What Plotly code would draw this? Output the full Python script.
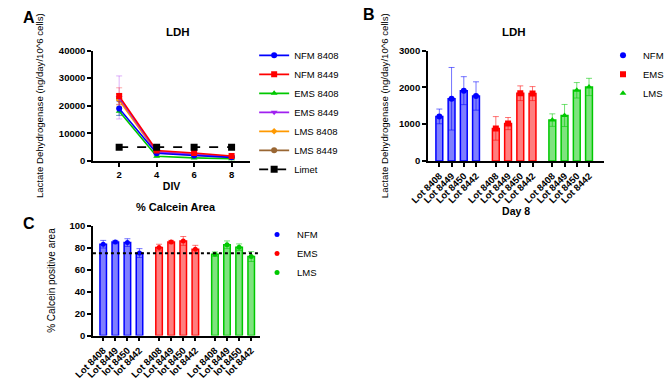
import plotly.graph_objects as go

# ---------------- data ----------------
DIV = [2, 4, 6, 8]
A_NAMES = ["NFM 8408", "NFM 8449", "EMS 8408", "EMS 8449", "LMS 8408", "LMS 8449"]
NFM_8408 = [19000, 2800, 2000, 1300]
NFM_8408_SD = [2500, 400, 300, 200]
NFM_8449 = [23500, 3800, 2900, 1800]
NFM_8449_SD = [3000, 500, 400, 300]
EMS_8408 = [18000, 1700, 1100, 800]
EMS_8408_SD = [1500, 300, 200, 150]
EMS_8449 = [23000, 3300, 2300, 1500]
EMS_8449_SD = [7800, 400, 300, 200]
LMS_8408 = [22000, 3000, 2100, 1300]
LMS_8408_SD = [2000, 300, 200, 200]
LMS_8449 = [22500, 3300, 2300, 1500]
LMS_8449_SD = [2000, 300, 200, 200]
LIMET = [5000, 5000, 5000, 5000]

GROUPS = ["NFM", "EMS", "LMS"]
LOTS_B = ["Lot 8408", "Lot 8449", "Lot 8450", "Lot 8442"]
NFM_B = [1210, 1690, 1910, 1765]
NFM_B_SD = [200, 850, 380, 385]
EMS_B = [885, 1015, 1840, 1830]
EMS_B_SD = [320, 165, 200, 190]
LMS_B = [1110, 1235, 1920, 2010]
LMS_B_SD = [170, 300, 210, 235]

LOTS_C = ["Lot 8408", "Lot 8449", "lot 8450", "lot 8442"]
NFM_C = [83, 85, 84.5, 75]
NFM_C_SD = [3.5, 1.5, 3.5, 4]
EMS_C = [80, 85, 86, 78.5]
EMS_C_SD = [3, 1.5, 4, 3.5]
LMS_C = [74, 82.5, 80.3, 71.8]
LMS_C_SD = [2, 3.5, 3, 4.5]
CALCEIN_LIMIT = 74.8

# ---------------- style ----------------
W, H = 669, 380
FONT = "Liberation Sans, Arial, sans-serif"
BLUE, RED, GREEN = "#0000FF", "#FF0000", "#00C800"
PURPLE, ORANGE, BROWN = "#A020F0", "#FF9900", "#996633"
FILL = {"NFM": "rgba(0,0,255,0.5)", "EMS": "rgba(255,0,0,0.5)", "LMS": "rgba(0,200,0,0.5)"}
ERRC = {"NFM": "rgba(0,0,255,0.55)", "EMS": "rgba(255,0,0,0.55)", "LMS": "rgba(0,200,0,0.55)"}
GCOL = {"NFM": BLUE, "EMS": RED, "LMS": GREEN}


def fx(p):
    return p / W


def fy(p):
    return 1 - p / H


fig = go.Figure()

# ---------------- panel A ----------------
a_vals = [NFM_8408, NFM_8449, EMS_8408, EMS_8449, LMS_8408, LMS_8449]
a_sds = [NFM_8408_SD, NFM_8449_SD, EMS_8408_SD, EMS_8449_SD, LMS_8408_SD, LMS_8449_SD]
a_cols = [BLUE, RED, GREEN, PURPLE, ORANGE, BROWN]
a_syms = ["circle", "square", "triangle-up", "triangle-down", "diamond", "circle"]
a_err_rgba = ["rgba(0,0,255,0.35)", "rgba(255,0,0,0.35)", "rgba(0,200,0,0.35)",
              "rgba(160,32,240,0.35)", "rgba(255,153,0,0.35)", "rgba(153,102,51,0.35)"]
order = [5, 4, 3, 2, 0, 1]
for i in order:
    fig.add_trace(go.Scatter(
        x=DIV, y=a_vals[i], name=A_NAMES[i], mode="lines+markers",
        line=dict(color=a_cols[i], width=1.6),
        marker=dict(color=a_cols[i], symbol=a_syms[i], size=6 if i != 4 else 5),
        error_y=dict(type="data", array=a_sds[i], color=a_err_rgba[i], thickness=1, width=3),
        xaxis="x", yaxis="y", legend="legend", legendrank=i + 1,
    ))
fig.add_trace(go.Scatter(
    x=DIV, y=LIMET, name="Limet", mode="lines+markers",
    line=dict(color="black", width=1.6, dash="dash"),
    marker=dict(color="black", symbol="square", size=7),
    xaxis="x", yaxis="y", legend="legend", legendrank=7,
))

# ---------------- panels B and C (bars) ----------------
GAP = 0.62


def positions(g):
    return [g * (len(LOTS_B) + GAP) + i for i in range(len(LOTS_B))]


b_vals = {"NFM": (NFM_B, NFM_B_SD), "EMS": (EMS_B, EMS_B_SD), "LMS": (LMS_B, LMS_B_SD)}
c_vals = {"NFM": (NFM_C, NFM_C_SD), "EMS": (EMS_C, EMS_C_SD), "LMS": (LMS_C, LMS_C_SD)}
b_syms = {"NFM": "circle", "EMS": "square", "LMS": "triangle-up"}

for g, grp in enumerate(GROUPS):
    xs = positions(g)
    v, sd = b_vals[grp]
    fig.add_trace(go.Bar(x=xs, y=v, width=0.56, marker=dict(color=FILL[grp], line=dict(color=GCOL[grp], width=1.5)),
                         showlegend=False, xaxis="x2", yaxis="y2", hoverinfo="skip"))
    fig.add_trace(go.Scatter(x=xs, y=v, mode="markers", name=grp,
                             marker=dict(color=GCOL[grp], symbol=b_syms[grp], size=6),
                             error_y=dict(type="data", array=sd, color=ERRC[grp], thickness=1, width=3),
                             xaxis="x2", yaxis="y2", legend="legend2"))
    v, sd = c_vals[grp]
    fig.add_trace(go.Bar(x=xs, y=v, width=0.54, marker=dict(color=FILL[grp], line=dict(color=GCOL[grp], width=1.5)),
                         showlegend=False, xaxis="x3", yaxis="y3", hoverinfo="skip"))
    fig.add_trace(go.Scatter(x=xs, y=v, mode="markers", name=grp,
                             marker=dict(color=GCOL[grp], symbol="circle", size=5),
                             error_y=dict(type="data", array=sd, color=ERRC[grp], thickness=1, width=3),
                             xaxis="x3", yaxis="y3", legend="legend3"))

all_pos = [p for g in range(len(GROUPS)) for p in positions(g)]

axis_common = dict(showline=True, linecolor="black", linewidth=1.5, ticks="outside", ticklen=4,
                   tickwidth=1.5, tickcolor="black", showgrid=False, zeroline=False,
                   tickfont=dict(size=9.5, family=FONT, color="black", weight="bold"))

fig.update_layout(
    width=W, height=H, margin=dict(l=0, r=0, t=0, b=0),
    paper_bgcolor="white", plot_bgcolor="white", barmode="overlay",
    font=dict(family=FONT, color="black"),
    xaxis=dict(domain=[fx(76), fx(240)], range=[0.6, 9.0], tickvals=DIV, anchor="y",
               title=dict(text="DIV", font=dict(size=10.5, weight="bold"), standoff=4), **axis_common),
    yaxis=dict(domain=[fy(160), fy(46)], range=[0, 40000], tickvals=[0, 10000, 20000, 30000, 40000],
               tickformat="d", anchor="x",
               title=dict(text="Lactate Dehydrogenase (ng/day/10^6 cells)", font=dict(size=9.6), standoff=13),
               **axis_common),
    xaxis2=dict(domain=[fx(425), fx(609)], range=[-0.94, 13.5], tickvals=all_pos,
                ticktext=LOTS_B * len(GROUPS), tickangle=-45, anchor="y2",
                title=dict(text="Day 8", font=dict(size=10.5, weight="bold"), standoff=0), **axis_common),
    yaxis2=dict(domain=[fy(160), fy(46)], range=[0, 3000], tickvals=[0, 1000, 2000, 3000],
                tickformat="d", anchor="x2",
                title=dict(text="Lactate Dehydrogenase (ng/day/10^6 cells)", font=dict(size=9.6), standoff=9),
                **axis_common),
    xaxis3=dict(domain=[fx(76), fx(250)], range=[-0.85, 12.96], tickvals=all_pos,
                ticktext=LOTS_C * len(GROUPS), tickangle=-45, anchor="y3", **axis_common),
    yaxis3=dict(domain=[fy(340.3), fy(226.7)], range=[0, 100], tickvals=[0, 20, 40, 60, 80, 100],
                anchor="x3",
                title=dict(text="% Calcein positive area", font=dict(size=10), standoff=12),
                **axis_common),
    legend=dict(x=fx(244), y=fy(36), xanchor="left", yanchor="top", font=dict(size=9.5),
                bgcolor="rgba(0,0,0,0)", itemwidth=30, tracegroupgap=0),
    legend2=dict(x=fx(608), y=fy(36), xanchor="left", yanchor="top", font=dict(size=9.5),
                 bgcolor="rgba(0,0,0,0)", itemwidth=30),
    legend3=dict(x=fx(247), y=fy(221), xanchor="left", yanchor="top", font=dict(size=9.5),
                 bgcolor="rgba(0,0,0,0)", itemwidth=30),
    showlegend=True,
)

fig.add_shape(type="line", xref="x3 domain", x0=0, x1=1, yref="y3", y0=CALCEIN_LIMIT, y1=CALCEIN_LIMIT,
              line=dict(color="black", width=2, dash="dot"))

ann = [
    dict(text="LDH", x=fx(165), y=fy(27), size=11.5, weight="bold"),
    dict(text="LDH", x=fx(515), y=fy(27), size=11.5, weight="bold"),
    dict(text="% Calcein Area", x=fx(163), y=fy(208), size=11, weight="bold"),
    dict(text="A", x=fx(9), y=fy(12), size=16, weight="bold"),
    dict(text="B", x=fx(364), y=fy(9), size=16, weight="bold"),
    dict(text="C", x=fx(9), y=fy(225), size=16, weight="bold"),
]
for a in ann:
    fig.add_annotation(text=a["text"], x=a["x"], y=a["y"], xref="paper", yref="paper",
                       xanchor="center", yanchor="middle", showarrow=False,
                       font=dict(size=a["size"], family=FONT, color="black", weight=a["weight"]))

fig.write_html("out.html")
